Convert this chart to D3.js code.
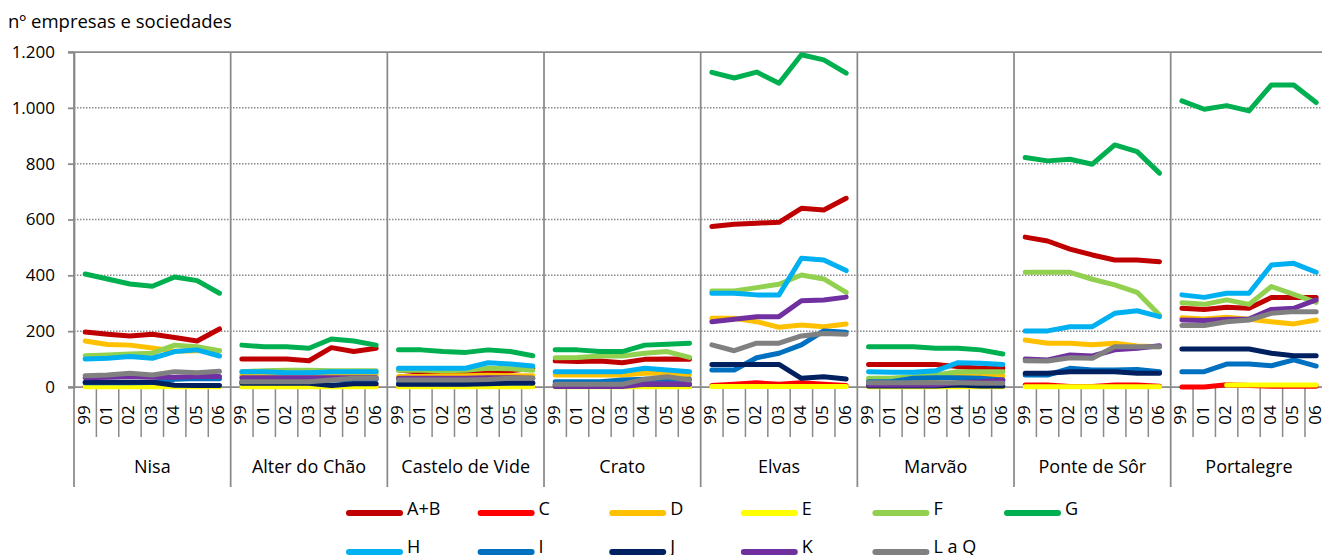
<!DOCTYPE html>
<html>
<head>
<meta charset="utf-8">
<script src="https://cdn.jsdelivr.net/npm/d3@7"></script>
<style>
  html, body { margin: 0; padding: 0; background: #fff; }
  svg { display: block; font-family: "Open Sans", sans-serif; }
</style>
</head>
<body>
<svg id="chart" width="1322" height="555"></svg>
<script>
// ---------- DATA ----------
const municipalities = ["Nisa", "Alter do Chão", "Castelo de Vide", "Crato", "Elvas", "Marvão", "Ponte de Sôr", "Portalegre"];
const years = ["99", "01", "02", "03", "04", "05", "06"];
const yTicks = [0, 200, 400, 600, 800, 1000, 1200];
const seriesNames = ["A+B", "C", "D", "E", "F", "G", "H", "I", "J", "K", "L a Q"];
const seriesColors = ["#C00000", "#FF0000", "#FFC000", "#FFFF00", "#92D050", "#00B050", "#00B0F0", "#0070C0", "#002060", "#7030A0", "#808080"];

// values per series: 8 municipalities x 7 years (99,01,02,03,04,05,06)
const sAB = [
  197, 189, 183, 189, 177, 165, 208,   // Nisa
  100, 100, 100, 94, 141, 127, 139,    // Alter do Chão
  61, 53, 55, 51, 49, 58, 67,          // Castelo de Vide
  94, 91, 93, 87, 99, 100, 99,         // Crato
  575, 583, 587, 590, 640, 634, 676,   // Elvas
  81, 81, 81, 81, 73, 67, 69,          // Marvão
  537, 523, 494, 473, 455, 455, 449,   // Ponte de Sôr
  282, 278, 286, 282, 321, 321, 321    // Portalegre
];
const sC = [
  3, 3, 3, 3, 3, 3, 3,
  2, 2, 2, 2, 2, 2, 2,
  2, 2, 2, 2, 2, 2, 2,
  2, 2, 2, 2, 2, 2, 2,
  5, 10, 15, 10, 15, 10, 5,
  2, 2, 2, 2, 2, 2, 2,
  7, 7, 2, 2, 7, 7, 3,
  0, 0, 8, 5, 3, 3, 3
];
const sD = [
  165, 152, 150, 140, 128, 130, 130,
  42, 42, 42, 42, 45, 45, 45,
  38, 38, 40, 40, 42, 40, 40,
  43, 43, 43, 43, 49, 49, 43,
  246, 246, 234, 214, 222, 216, 226,
  25, 25, 28, 30, 40, 40, 40,
  168, 157, 157, 151, 157, 147, 144,
  248, 244, 250, 243, 234, 226, 240
];
const sE = [
  1, 1, 1, 1, 1, 1, 1,
  1, 1, 1, 1, 1, 1, 1,
  1, 1, 1, 1, 1, 1, 1,
  1, 1, 1, 1, 1, 1, 1,
  2, 2, 2, 2, 2, 2, 2,
  1, 1, 1, 1, 1, 1, 1,
  1, 1, 1, 1, 1, 1, 1,
  null, null, 7, 7, 7, 7, 7
];
const sF = [
  112, 115, 118, 121, 150, 144, 130,
  55, 58, 60, 60, 58, 58, 58,
  60, 60, 58, 60, 67, 65, 60,
  105, 106, 111, 111, 121, 127, 106,
  344, 344, 356, 368, 401, 387, 339,
  31, 31, 37, 43, 55, 55, 55,
  411, 411, 411, 386, 366, 339, 258,
  302, 296, 312, 296, 360, 332, 303
];
const sG = [
  405, 387, 369, 361, 394, 381, 336,
  150, 144, 144, 139, 172, 165, 150,
  133, 133, 127, 124, 133, 127, 112,
  133, 133, 127, 127, 150, 153, 157,
  1127, 1107, 1128, 1088, 1190, 1172, 1124,
  144, 144, 144, 139, 139, 133, 118,
  822, 810, 816, 798, 867, 843, 766,
  1025, 995, 1008, 989, 1082, 1082, 1019
];
const sH = [
  100, 103, 109, 103, 127, 133, 111,
  55, 55, 51, 51, 55, 55, 55,
  67, 67, 67, 67, 87, 82, 75,
  55, 55, 55, 55, 67, 61, 55,
  336, 336, 330, 330, 461, 455, 417,
  55, 53, 53, 58, 87, 85, 81,
  201, 201, 216, 216, 264, 273, 252,
  330, 321, 336, 336, 437, 443, 411
];
const sI = [
  15, 15, 15, 16, 28, 30, 30,
  20, 20, 20, 20, 25, 28, 28,
  12, 12, 12, 12, 14, 14, 14,
  19, 19, 19, 25, 28, 28, 28,
  61, 61, 105, 121, 151, 201, 196,
  19, 19, 31, 33, 33, 31, 25,
  43, 43, 67, 61, 61, 63, 55,
  55, 55, 82, 82, 76, 97, 75
];
const sJ = [
  17, 17, 17, 17, 6, 5, 5,
  13, 13, 13, 13, 5, 12, 12,
  10, 10, 10, 10, 12, 14, 14,
  8, 8, 8, 8, 10, 10, 10,
  81, 81, 81, 81, 31, 37, 29,
  4, 4, 4, 4, 7, 4, 4,
  49, 49, 55, 55, 55, 49, 49,
  136, 136, 136, 136, 121, 112, 112
];
const sK = [
  33, 35, 38, 35, 35, 38, 38,
  33, 33, 33, 33, 33, 33, 33,
  31, 31, 31, 31, 33, 33, 31,
  2, 2, 2, 2, 10, 12, 10,
  234, 243, 252, 252, 309, 312, 322,
  7, 7, 7, 7, 15, 19, 25,
  100, 97, 115, 111, 133, 139, 148,
  240, 238, 243, 243, 278, 282, 312
];
const sLQ = [
  40, 43, 49, 43, 55, 51, 56,
  19, 19, 19, 19, 25, 31, 31,
  25, 25, 25, 25, 27, 31, 31,
  10, 10, 10, 10, 28, 37, 25,
  151, 130, 157, 157, 183, 192, 189,
  15, 15, 15, 15, 15, 13, 13,
  94, 93, 105, 103, 144, 144, 144,
  220, 220, 234, 240, 264, 270, 270
];
const seriesValues = [sAB, sC, sD, sE, sF, sG, sH, sI, sJ, sK, sLQ];

// ---------- LAYOUT ----------
const svg = d3.select("#chart");
const plotLeft = 74, plotTop = 52, plotBottom = 387;
const groupW = 156.67;
const plotRight = plotLeft + municipalities.length * groupW;
const gridColor = "#8a8a8a";

svg.append("rect").attr("width", 1322).attr("height", 555).attr("fill", "#fff");

const keys = [];
municipalities.forEach(m => years.forEach(yr => keys.push(m + "|" + yr)));

const x = d3.scaleBand().domain(keys).range([plotLeft, plotRight]).padding(0);
const y = d3.scaleLinear().domain([0, 1200]).range([plotBottom, plotTop]);
const cx = k => x(k) + x.bandwidth() / 2;

const ptLocale = d3.formatLocale({ decimal: ",", thousands: ".", grouping: [3], currency: ["", ""] });
const fmt = ptLocale.format(",");

// Title
svg.append("text").attr("x", 8).attr("y", 28)
  .attr("font-size", 18.5).attr("fill", "#000")
  .text("nº empresas e sociedades");

// Gridlines
svg.append("g").selectAll("line").data(yTicks.filter(v => v > 0 && v < 1200)).join("line")
  .attr("x1", plotLeft).attr("x2", plotRight)
  .attr("y1", d => y(d)).attr("y2", d => y(d))
  .attr("stroke", gridColor).attr("stroke-width", 1.5)
  .attr("stroke-dasharray", "1.5,1.5");
// top border
svg.append("line").attr("x1", plotLeft - 6).attr("x2", plotRight)
  .attr("y1", y(1200)).attr("y2", y(1200))
  .attr("stroke", gridColor).attr("stroke-width", 1.75);

// Y axis
const yAxis = svg.append("g").attr("transform", `translate(${plotLeft},0)`)
  .call(d3.axisLeft(y).tickValues(yTicks).tickFormat(fmt).tickSize(6).tickPadding(13));
yAxis.select(".domain").attr("stroke", gridColor).attr("stroke-width", 1.75);
yAxis.selectAll(".tick line").attr("stroke", gridColor).attr("stroke-width", 1.75);
yAxis.selectAll(".tick text").attr("font-size", 17).attr("fill", "#000")
  .attr("font-family", "Open Sans, sans-serif");

// X axis (years)
const xAxis = svg.append("g").attr("transform", `translate(0,${plotBottom})`)
  .call(d3.axisBottom(x).tickSize(0).tickFormat(k => k.split("|")[1]));
xAxis.select(".domain").remove();
xAxis.selectAll(".tick text")
  .attr("transform", "rotate(-90)")
  .attr("x", -28).attr("y", 4.5).attr("dy", 0)
  .attr("text-anchor", "middle")
  .attr("font-size", 17).attr("fill", "#000")
  .attr("font-family", "Open Sans, sans-serif");

// x axis line
svg.append("line").attr("x1", plotLeft - 6).attr("x2", plotRight)
  .attr("y1", plotBottom).attr("y2", plotBottom)
  .attr("stroke", gridColor).attr("stroke-width", 1.75);

// category separators (within year label row)
const catBounds = keys.filter((k, i) => i % years.length !== 0).map(k => x(k));
svg.append("g").selectAll("line").data(catBounds).join("line")
  .attr("x1", d => d).attr("x2", d => d)
  .attr("y1", plotBottom).attr("y2", 437)
  .attr("stroke", gridColor).attr("stroke-width", 1.5);

// group separators (full height)
const groupBounds = municipalities.map(m => x(m + "|" + years[0])).concat([plotRight]);
svg.append("g").selectAll("line").data(groupBounds).join("line")
  .attr("x1", d => d).attr("x2", d => d)
  .attr("y1", plotTop).attr("y2", 487)
  .attr("stroke", gridColor).attr("stroke-width", 1.75);

// group labels
svg.append("g").selectAll("text").data(municipalities).join("text")
  .attr("x", m => x(m + "|" + years[0]) + groupW / 2)
  .attr("y", 473)
  .attr("text-anchor", "middle")
  .attr("font-size", 18).attr("fill", "#000")
  .text(m => m);

// ---------- LINES ----------
const line = d3.line()
  .defined(d => d.v !== null)
  .x(d => cx(d.k))
  .y(d => y(d.v));

const linesG = svg.append("g");
seriesNames.forEach((name, si) => {
  const vals = seriesValues[si];
  municipalities.forEach((m, mi) => {
    const pts = years.map((yr, yi) => ({ k: m + "|" + yr, v: vals[mi * years.length + yi] }));
    linesG.append("path")
      .datum(pts)
      .attr("d", line)
      .attr("fill", "none")
      .attr("stroke", seriesColors[si])
      .attr("stroke-width", 5)
      .attr("stroke-linejoin", "round")
      .attr("stroke-linecap", "round");
  });
});

// ---------- LEGEND ----------
const legend = svg.append("g");
const perRow = 6;
seriesNames.forEach((name, i) => {
  const row = Math.floor(i / perRow), col = i % perRow;
  const lx = 346 + col * 131.6;
  const ly = row === 0 ? 513 : 552;
  legend.append("line")
    .attr("x1", lx + 3).attr("x2", lx + 54)
    .attr("y1", ly).attr("y2", ly)
    .attr("stroke", seriesColors[i]).attr("stroke-width", 6)
    .attr("stroke-linecap", "round");
  legend.append("text")
    .attr("x", lx + 61).attr("y", row === 0 ? 515 : 553)
    .attr("font-size", 18).attr("fill", "#000")
    .text(name);
});
</script>
</body>
</html>
